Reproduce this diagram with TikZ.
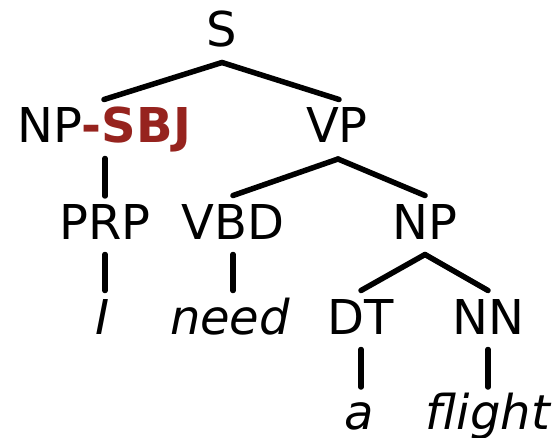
\documentclass[tikz,border=0pt]{standalone}
\usepackage{fontspec}
\setmainfont{DejaVu Sans}
\definecolor{sbjred}{RGB}{150,35,30}
\begin{document}
\begin{tikzpicture}[x=1pt,y=1pt,
  lab/.style={anchor=base,inner sep=0pt,font=\fontsize{48}{58}\selectfont},
  word/.style={lab,font=\fontsize{48}{58}\selectfont\itshape},
  edge/.style={line width=5.5pt,line cap=round}]
\useasboundingbox (0,0) rectangle (556,-438);
\node[lab] (S) at (222,-47) {S};
\node[lab] (NPS) at (104,-143) {NP\textcolor{sbjred}{\bfseries -SBJ}};
\node[lab] (VP) at (337,-143) {VP};
\node[lab] (PRP) at (105,-239) {PRP};
\node[lab] (VBD) at (233,-239) {VBD};
\node[lab] (NP) at (425,-239) {NP};
\node[word] (I) at (103,-334) {I};
\node[word] (need) at (230,-334) {need};
\node[lab] (DT) at (361,-334) {DT};
\node[lab] (NN) at (488,-334) {NN};
\node[word] (a) at (359,-429) {a};
\node[word] (flight) at (488,-429) {flight};
\coordinate (Sb) at ([yshift=-15.5pt]S.base);
\coordinate (NPSt) at ([yshift=43.5pt]NPS.base);
\coordinate (PRPt) at ([yshift=43pt]PRP.base);
\coordinate (PRPb) at ([yshift=-15.5pt]PRP.base);
\coordinate (VPt) at ([yshift=43.5pt,xshift=2pt]VP.base);
\coordinate (VPb) at ([yshift=-16pt,xshift=1pt]VP.base);
\coordinate (VBDt) at ([yshift=43.5pt]VBD.base);
\coordinate (VBDb) at ([yshift=-15.5pt]VBD.base);
\coordinate (NPt) at ([yshift=43.5pt]NP.base);
\coordinate (NPb) at ([yshift=-15.5pt]NP.base);
\coordinate (DTt) at ([yshift=43.5pt]DT.base);
\coordinate (DTb) at ([yshift=-15.5pt]DT.base);
\coordinate (NNt) at ([yshift=43.5pt]NN.base);
\coordinate (NNb) at ([yshift=-15.5pt]NN.base);
\coordinate (at) at ([yshift=42pt]DTb |- a.base);
\coordinate (flightt) at ([yshift=42pt]NNb |- flight.base);
\draw[edge] (Sb) -- (NPSt);
\draw[edge] (Sb) -- (VPt);
\draw[edge] (PRPt |- NPS.base) ++(0,-15.5pt) -- (PRPt);
\draw[edge] (VPb) -- (VBDt);
\draw[edge] (VPb) -- (NPt);
\draw[edge] (PRPb) -- (PRPb |- DTt);
\draw[edge] (VBDb) -- (VBDb |- DTt);
\draw[edge] (NPb) -- (DTt);
\draw[edge] (NPb) -- (NNt);
\draw[edge] (DTb) -- (at);
\draw[edge] (NNb) -- (flightt);
\end{tikzpicture}
\end{document}
